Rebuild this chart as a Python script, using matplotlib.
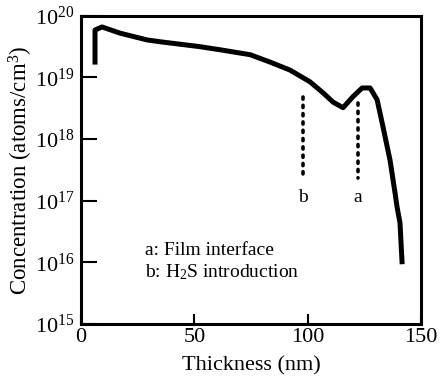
import matplotlib
matplotlib.use("Agg")
import matplotlib.pyplot as plt
import numpy as np

plt.rcParams['font.family'] = ['Liberation Serif', 'DejaVu Serif']
plt.rcParams['mathtext.fontset'] = 'custom'
plt.rcParams['mathtext.rm'] = 'Liberation Serif'

thickness = [6.2, 6.2, 9.3, 17.2, 29.1, 34.9, 52.5, 61.3, 74.6, 83.4, 92.2, 101.0,
             106.8, 111.2, 115.6, 120.0, 124.0, 127.5, 130.6, 133.2, 136.3, 138.5,
             139.4, 140.7, 141.6]
log_conc = [19.25, 19.77, 19.82, 19.72, 19.61, 19.58, 19.50, 19.45, 19.37, 19.25,
            19.12, 18.93, 18.75, 18.60, 18.51, 18.69, 18.83, 18.83, 18.64, 18.20,
            17.66, 17.13, 16.90, 16.64, 16.01]
concentration = [10 ** v for v in log_conc]

marker_pos = {'a': 122.0, 'b': 98.0}
marker_top = {'a': 10 ** 18.59, 'b': 10 ** 18.69}
marker_bottom = 10 ** 17.37

xticks = [0, 50, 100, 150]
yticks = [1e15, 1e16, 1e17, 1e18, 1e19, 1e20]
ytick_labels = [r'$\mathregular{10^{%d}}$' % e for e in range(15, 21)]

fig = plt.figure(figsize=(4.4, 3.78), dpi=100)
ax = fig.add_axes([0.184, 0.143, 0.773, 0.815])

ax.plot(thickness, concentration, color='black', lw=3.6, solid_joinstyle='round')

for k in ['a', 'b']:
    ax.plot([marker_pos[k], marker_pos[k]], [marker_top[k], marker_bottom],
            color='black', lw=2.6, linestyle=(0, (0.6, 1.7)), dash_capstyle='round')
    ax.text(marker_pos[k], 10 ** 17.05, k, ha='center', va='center', fontsize=14)

ax.text(28.2, 10 ** 16.2, 'a: Film interface', ha='left', va='center', fontsize=14)
ax.text(28.2, 10 ** 15.84, r'b: H$\mathregular{_2}$S introduction', ha='left',
        va='center', fontsize=14)

ax.set_yscale('log')
ax.set_xlim(0, 150)
ax.set_ylim(1e15, 1e20)
ax.set_xticks(xticks)
ax.set_xticklabels([str(t) for t in xticks], fontsize=16)
ax.set_yticks(yticks)
ax.set_yticklabels(ytick_labels, fontsize=16)
ax.yaxis.set_minor_locator(matplotlib.ticker.NullLocator())
ax.tick_params(axis='y', direction='in', length=11.5, width=1.5, pad=5)
ax.tick_params(axis='x', direction='in', length=7, width=1.5, pad=3)

for s in ax.spines.values():
    s.set_linewidth(2.2)

ax.set_xlabel('Thickness (nm)', fontsize=16)
ax.xaxis.set_label_coords(0.5, -0.105)
ax.set_ylabel(r'Concentration (atoms/cm$\mathregular{^3}$)', fontsize=16.5, labelpad=0)

fig.savefig('out.png', dpi=100)
